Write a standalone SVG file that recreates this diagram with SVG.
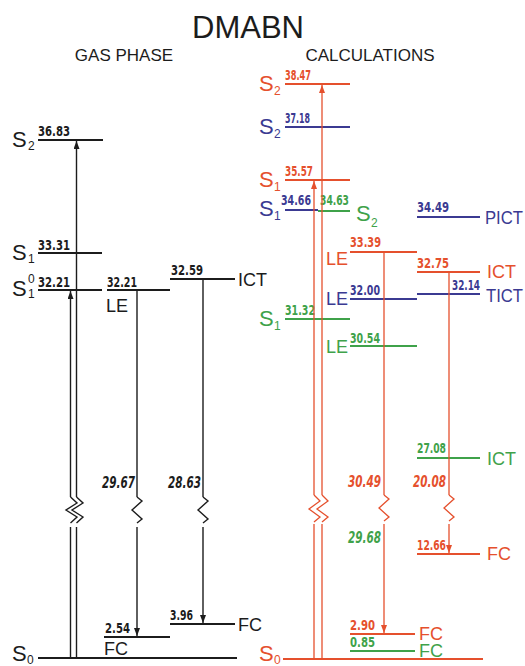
<svg xmlns="http://www.w3.org/2000/svg" width="525" height="666" viewBox="0 0 525 666">
<style>
.lk{stroke:#1c1c1c;stroke-width:2.2;fill:none}
.lr{stroke:#e5502d;stroke-width:2;fill:none}
.lb{stroke:#3b3a92;stroke-width:2;fill:none}
.lg{stroke:#3fa24a;stroke-width:2;fill:none}
.vk{stroke:#1c1c1c;stroke-width:1.4;fill:none}
.vr{stroke:#e5502d;stroke-width:1.3;fill:none}
.t{font-family:"Liberation Sans",Arial,sans-serif}
.n{font-family:"Liberation Sans Narrow","DejaVu Sans Condensed","Liberation Sans",sans-serif;font-weight:bold;font-size:14.5px}
.ni{font-family:"Liberation Sans Narrow","DejaVu Sans Condensed","Liberation Sans",sans-serif;font-weight:bold;font-style:italic;font-size:16px}
.s{font-family:"Liberation Sans",Arial,sans-serif;font-size:22px}
.sub{font-size:12px}
.lab{font-family:"Liberation Sans",Arial,sans-serif;font-size:18px}
.k{fill:#1c1c1c}.r{fill:#e5502d}.b{fill:#3b3a92}.g{fill:#3fa24a}
</style>
<defs>
<marker id="ak" viewBox="0 0 8 6" refX="8" refY="3" markerWidth="8" markerHeight="6" markerUnits="userSpaceOnUse" orient="auto"><path d="M0,0 L8,3 L0,6 z" fill="#1c1c1c"/></marker>
<marker id="ar" viewBox="0 0 8 6" refX="8" refY="3" markerWidth="8" markerHeight="6" markerUnits="userSpaceOnUse" orient="auto"><path d="M0,0 L8,3 L0,6 z" fill="#e5502d"/></marker>
</defs>
<rect width="525" height="666" fill="#ffffff"/>
<g id="titles">
<text class="t k" x="248" y="38" font-size="31" text-anchor="middle">DMABN</text>
<text class="t k" x="124" y="61" font-size="17" text-anchor="middle">GAS PHASE</text>
<text class="t k" x="370" y="61" font-size="17" text-anchor="middle">CALCULATIONS</text>
</g>
<g id="gas-S2">
<line class="lk" x1="38" y1="140" x2="103" y2="140"/>
<text class="s k" x="12" y="147">S<tspan class="sub" x="28" y="150">2</tspan></text>
<text class="n k" x="38" y="136" textLength="32" lengthAdjust="spacingAndGlyphs">36.83</text>
</g>
<g id="gas-S1">
<line class="lk" x1="38" y1="253" x2="102" y2="253"/>
<text class="s k" x="12" y="260">S<tspan class="sub" x="28" y="263">1</tspan></text>
<text class="n k" x="38" y="250" textLength="32" lengthAdjust="spacingAndGlyphs">33.31</text>
</g>
<g id="gas-S10">
<line class="lk" x1="38" y1="290" x2="102" y2="290"/>
<text class="s k" x="12" y="296">S<tspan class="sub" x="28" y="283">0</tspan><tspan class="sub" x="28" y="298">1</tspan></text>
<text class="n k" x="38" y="287" textLength="32" lengthAdjust="spacingAndGlyphs">32.21</text>
</g>
<g id="gas-LE">
<line class="lk" x1="107" y1="290" x2="170" y2="290"/>
<text class="n k" x="107" y="287" textLength="30" lengthAdjust="spacingAndGlyphs">32.21</text>
<text class="lab k" x="106" y="312">LE</text>
</g>
<g id="gas-ICT">
<line class="lk" x1="170" y1="279" x2="235" y2="279"/>
<text class="n k" x="171" y="275" textLength="32" lengthAdjust="spacingAndGlyphs">32.59</text>
<text class="lab k" x="238" y="286">ICT</text>
</g>
<g id="gas-FC1">
<line class="lk" x1="104" y1="637" x2="170" y2="637"/>
<text class="n k" x="105" y="633" textLength="25" lengthAdjust="spacingAndGlyphs">2.54</text>
<text class="lab k" x="104" y="655">FC</text>
</g>
<g id="gas-FC2">
<line class="lk" x1="170" y1="624" x2="235" y2="624"/>
<text class="n k" x="170" y="620" textLength="23" lengthAdjust="spacingAndGlyphs">3.96</text>
<text class="lab k" x="238" y="631">FC</text>
</g>
<g id="gas-S0">
<line class="lk" x1="38" y1="658" x2="237" y2="658"/>
<text class="s k" x="12" y="661">S<tspan class="sub" x="27" y="664">0</tspan></text>
</g>
<g id="calc-S2-red">
<line class="lr" x1="285" y1="84" x2="350" y2="84"/>
<text class="s r" x="259" y="91">S<tspan class="sub" x="274" y="95">2</tspan></text>
<text class="n r" x="285" y="80" textLength="26" lengthAdjust="spacingAndGlyphs">38.47</text>
</g>
<g id="calc-S2-blue">
<line class="lb" x1="285" y1="127" x2="350" y2="127"/>
<text class="s b" x="259" y="134">S<tspan class="sub" x="274" y="138">2</tspan></text>
<text class="n b" x="285" y="123" textLength="25" lengthAdjust="spacingAndGlyphs">37.18</text>
</g>
<g id="calc-S1-red">
<line class="lr" x1="285" y1="180" x2="350" y2="180"/>
<text class="s r" x="259" y="187">S<tspan class="sub" x="274" y="191">1</tspan></text>
<text class="n r" x="285" y="176" textLength="28" lengthAdjust="spacingAndGlyphs">35.57</text>
</g>
<g id="calc-S1-blue">
<line class="lb" x1="285" y1="210" x2="318" y2="210"/>
<text class="s b" x="259" y="216">S<tspan class="sub" x="274" y="220">1</tspan></text>
<text class="n b" x="281" y="205" textLength="30" lengthAdjust="spacingAndGlyphs">34.66</text>
</g>
<g id="calc-S2-green">
<line class="lg" x1="318" y1="211" x2="350" y2="211"/>
<text class="n g" x="320" y="205" textLength="29" lengthAdjust="spacingAndGlyphs">34.63</text>
<text class="s g" x="356" y="221">S<tspan class="sub" x="371" y="227">2</tspan></text>
</g>
<g id="calc-PICT">
<line class="lb" x1="417" y1="217" x2="480" y2="217"/>
<text class="n b" x="417" y="212" textLength="32" lengthAdjust="spacingAndGlyphs">34.49</text>
<text class="lab b" x="485" y="224" textLength="38" lengthAdjust="spacingAndGlyphs">PICT</text>
</g>
<g id="calc-LE-red">
<line class="lr" x1="350" y1="252" x2="417" y2="252"/>
<text class="n r" x="350" y="247" textLength="31" lengthAdjust="spacingAndGlyphs">33.39</text>
<text class="lab r" x="326" y="265">LE</text>
</g>
<g id="calc-ICT-red">
<line class="lr" x1="417" y1="272" x2="480" y2="272"/>
<text class="n r" x="417" y="268" textLength="32" lengthAdjust="spacingAndGlyphs">32.75</text>
<text class="lab r" x="487" y="278">ICT</text>
</g>
<g id="calc-LE-blue">
<line class="lb" x1="350" y1="299" x2="417" y2="299"/>
<text class="n b" x="350" y="295" textLength="30" lengthAdjust="spacingAndGlyphs">32.00</text>
<text class="lab b" x="326" y="305">LE</text>
</g>
<g id="calc-TICT">
<line class="lb" x1="417" y1="294" x2="480" y2="294"/>
<text class="n b" x="452" y="290" textLength="28" lengthAdjust="spacingAndGlyphs">32.14</text>
<text class="lab b" x="486" y="302" textLength="37" lengthAdjust="spacingAndGlyphs">TICT</text>
</g>
<g id="calc-S1-green">
<line class="lg" x1="285" y1="319" x2="350" y2="319"/>
<text class="s g" x="259" y="326">S<tspan class="sub" x="274" y="330">1</tspan></text>
<text class="n g" x="285" y="315" textLength="30" lengthAdjust="spacingAndGlyphs">31.32</text>
</g>
<g id="calc-LE-green">
<line class="lg" x1="350" y1="346" x2="417" y2="346"/>
<text class="n g" x="350" y="343" textLength="30" lengthAdjust="spacingAndGlyphs">30.54</text>
<text class="lab g" x="326" y="353">LE</text>
</g>
<g id="calc-ICT-green">
<line class="lg" x1="417" y1="458" x2="480" y2="458"/>
<text class="n g" x="417" y="453" textLength="29" lengthAdjust="spacingAndGlyphs">27.08</text>
<text class="lab g" x="487" y="465">ICT</text>
</g>
<g id="calc-FC-red1">
<line class="lr" x1="417" y1="554" x2="480" y2="554"/>
<text class="n r" x="417" y="550" textLength="29" lengthAdjust="spacingAndGlyphs">12.66</text>
<text class="lab r" x="487" y="560">FC</text>
</g>
<g id="calc-FC-red2">
<line class="lr" x1="350" y1="634" x2="415" y2="634"/>
<text class="n r" x="350" y="630" textLength="25" lengthAdjust="spacingAndGlyphs">2.90</text>
<text class="lab r" x="419" y="640" font-size="16">FC</text>
</g>
<g id="calc-FC-green">
<line class="lg" x1="350" y1="651" x2="415" y2="651"/>
<text class="n g" x="350" y="647" textLength="25" lengthAdjust="spacingAndGlyphs">0.85</text>
<text class="lab g" x="419" y="657" font-size="16">FC</text>
</g>
<g id="calc-S0">
<line class="lr" x1="283" y1="659" x2="483" y2="659"/>
<text class="s r" x="259" y="661">S<tspan class="sub" x="274" y="664">0</tspan></text>
</g>
<g id="connectors">
<line class="vk" x1="70.5" y1="658" x2="70.5" y2="527"/>
<line class="vk" x1="70.5" y1="497" x2="70.5" y2="291" marker-end="url(#ak)"/>
<polyline class="vk" points="70.5,497 77,503 66,510 77,517 70.5,523"/>
<line class="vk" x1="76.5" y1="658" x2="76.5" y2="527"/>
<line class="vk" x1="76.5" y1="497" x2="76.5" y2="141" marker-end="url(#ak)"/>
<polyline class="vk" points="76.5,497 83,503 72,510 83,517 76.5,523"/>
<line class="vk" x1="137" y1="291" x2="137" y2="497"/>
<polyline class="vk" points="137,497 142,501 132,510 142,519 137,523"/>
<line class="vk" x1="137" y1="527" x2="137" y2="636" marker-end="url(#ak)"/>
<line class="vk" x1="203" y1="280" x2="203" y2="497"/>
<polyline class="vk" points="203,497 208,501 198,510 208,519 203,523"/>
<line class="vk" x1="203" y1="527" x2="203" y2="623" marker-end="url(#ak)"/>
<text class="ni k" x="102" y="488" textLength="33" lengthAdjust="spacingAndGlyphs">29.67</text>
<text class="ni k" x="168" y="488" textLength="33" lengthAdjust="spacingAndGlyphs">28.63</text>
<line class="vr" x1="314" y1="659" x2="314" y2="524"/>
<line class="vr" x1="314" y1="495" x2="314" y2="181" marker-end="url(#ar)"/>
<polyline class="vr" points="314,495 320,501 309,509 320,517 314,522"/>
<line class="vr" x1="322" y1="659" x2="322" y2="524"/>
<line class="vr" x1="322" y1="495" x2="322" y2="85" marker-end="url(#ar)"/>
<polyline class="vr" points="322,495 328,501 317,509 328,517 322,522"/>
<line class="vr" x1="384" y1="253" x2="384" y2="495"/>
<polyline class="vr" points="384,495 389,499 379,508 389,517 384,521"/>
<line class="vr" x1="384" y1="524" x2="384" y2="633" marker-end="url(#ar)"/>
<line class="vr" x1="449" y1="273" x2="449" y2="495"/>
<polyline class="vr" points="449,495 454,499 444,508 454,517 449,521"/>
<line class="vr" x1="449" y1="524" x2="449" y2="553" marker-end="url(#ar)"/>
<text class="ni r" x="348" y="487" textLength="33" lengthAdjust="spacingAndGlyphs">30.49</text>
<text class="ni r" x="413" y="487" textLength="33" lengthAdjust="spacingAndGlyphs">20.08</text>
<text class="ni g" x="348" y="543" textLength="33" lengthAdjust="spacingAndGlyphs">29.68</text>
</g>
</svg>
